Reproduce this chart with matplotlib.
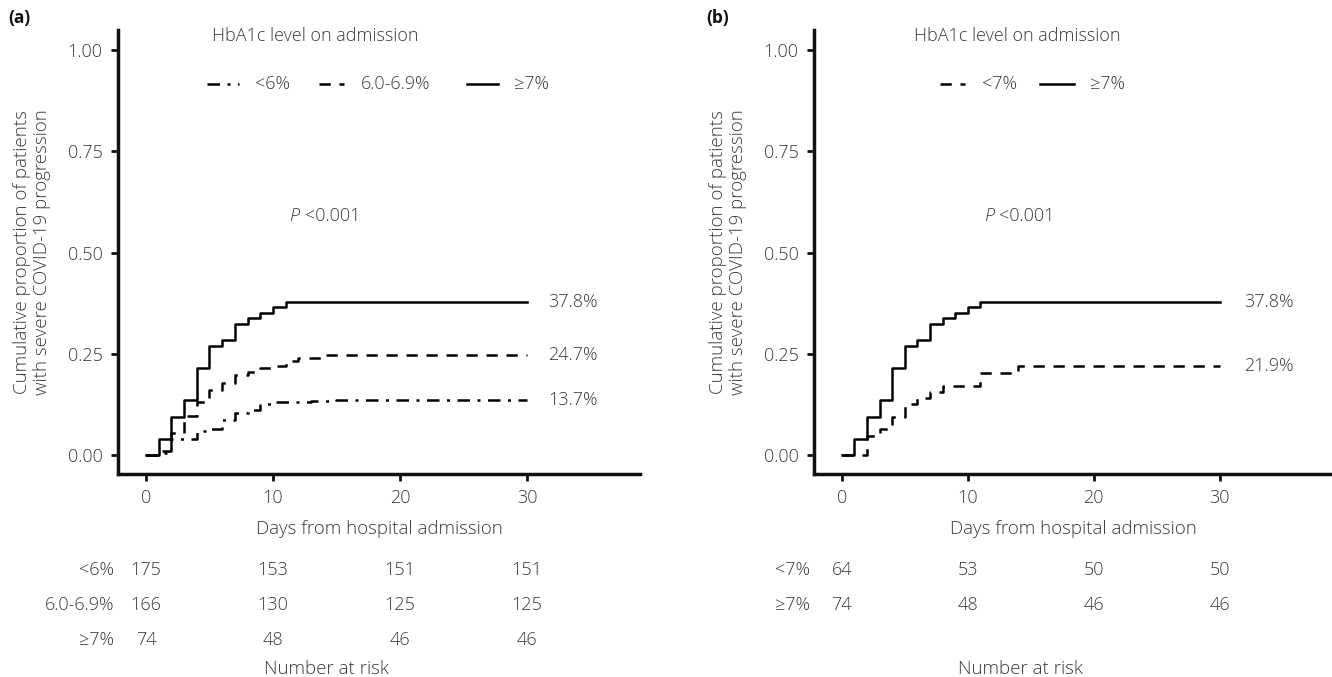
import matplotlib
matplotlib.use('Agg')
import matplotlib.pyplot as plt
import matplotlib.transforms as mtransforms
from matplotlib.lines import Line2D

plt.rcParams['font.family'] = ['Open Sans', 'DejaVu Sans']
plt.rcParams['font.weight'] = 'light'
plt.rcParams['axes.labelweight'] = 'light'

# panel (a) curves
days_gt7 = [0, 1, 2, 3, 4, 5, 6, 7, 8, 9, 10, 11, 30]
cum_gt7 = [0, 0.040, 0.095, 0.135, 0.216, 0.270, 0.285, 0.324, 0.338, 0.351, 0.365, 0.378, 0.378]

days_mid = [0, 1, 2, 3, 4, 5, 6, 7, 8, 9, 10, 11, 12, 14, 30]
cum_mid = [0, 0.011, 0.054, 0.097, 0.130, 0.161, 0.179, 0.197, 0.204, 0.215, 0.221, 0.233, 0.240, 0.247, 0.247]

days_lt6 = [0, 1, 2, 4, 5, 6, 7, 8, 9, 10, 13, 15, 30]
cum_lt6 = [0, 0.006, 0.039, 0.060, 0.064, 0.087, 0.103, 0.111, 0.125, 0.130, 0.134, 0.137, 0.137]

# panel (b) curves
days_lt7 = [0, 2, 3, 4, 5, 6, 7, 8, 11, 14, 30]
cum_lt7 = [0, 0.047, 0.063, 0.094, 0.125, 0.141, 0.155, 0.171, 0.203, 0.219, 0.219]

final_a = ['37.8%', '24.7%', '13.7%']
final_b = ['37.8%', '21.9%']

risk_days = [0, 10, 20, 30]
risk_a_labels = ['<6%', '6.0-6.9%', '≥7%']
risk_a = [[175, 153, 151, 151], [166, 130, 125, 125], [74, 48, 46, 46]]
risk_b_labels = ['<7%', '≥7%']
risk_b = [[64, 53, 50, 50], [74, 48, 46, 46]]

yticks = [0.0, 0.25, 0.5, 0.75, 1.0]
xticks = [0, 10, 20, 30]

txt = '#3a3a3a'
fs = 13
solid = '-'
dashed = (0, (4.5, 3.5))
dashdot = (0, (5, 3, 1.2, 3))

W, H = 1332, 677
fig = plt.figure(figsize=(W / 100, H / 100), dpi=100)


def make_axes(left_px, right_px):
    ax = fig.add_axes([left_px / W, 1 - 474 / H, (right_px - left_px) / W, (474 - 30) / H])
    ax.set_xlim(-2.2, 38.9)
    ax.set_ylim(-0.047, 1.05)
    for s in ['top', 'right']:
        ax.spines[s].set_visible(False)
    for s in ['left', 'bottom']:
        ax.spines[s].set_linewidth(2.5)
        ax.spines[s].set_color('#111111')
    ax.set_xticks(xticks)
    ax.set_yticks(yticks)
    ax.set_yticklabels(['%.2f' % v for v in yticks])
    ax.tick_params(direction='out', length=5, width=2, labelsize=fs, labelcolor=txt, color='#111111', pad=6)
    ax.set_xlabel('Days from hospital admission', fontsize=fs + 0.5, color=txt, labelpad=9,
                  fontweight='light')
    ax.set_ylabel('Cumulative proportion of patients\nwith severe COVID-19 progression',
                  fontsize=fs + 0.5, color=txt, labelpad=12, linespacing=1.15, fontweight='light')
    return ax


def legend_row(ax, items, y):
    for x0, x1, ls, lab in items:
        ax.add_line(Line2D([x0, x1], [y, y], color='black', lw=1.8, linestyle=ls))
        ax.text(x1 + 1.3, y, lab, fontsize=fs, color=txt, va='center', ha='left')


def p_value(ax, x, y):
    ax.text(x, y, 'P', fontsize=fs, color=txt, style='italic', ha='left', va='center')
    off = mtransforms.offset_copy(ax.transData, fig=fig, x=11, y=0, units='points')
    ax.text(x, y, '<0.001', fontsize=fs, color=txt, ha='left', va='center', transform=off)


def risk_table(ax, labels, rows):
    tr = mtransforms.blended_transform_factory(ax.transData, fig.transFigure)
    ys = [570, 605, 640]
    for i, (lab, row) in enumerate(zip(labels, rows)):
        y = 1 - ys[i] / H
        ax.text(-2.5, y, lab, transform=tr, ha='right', va='center', fontsize=fs, color=txt, clip_on=False)
        for d, n in zip(risk_days, row):
            ax.text(d, y, str(n), transform=tr, ha='center', va='center', fontsize=fs, color=txt, clip_on=False)
    ax.text(14.2, 1 - 669 / H, 'Number at risk', transform=tr, ha='center', va='center',
            fontsize=fs + 0.5, color=txt, clip_on=False)


# panel (a)
ax1 = make_axes(118, 640)
ax1.step(days_gt7, cum_gt7, where='post', color='black', lw=1.8, linestyle=solid)
ax1.step(days_mid, cum_mid, where='post', color='black', lw=1.8, linestyle=dashed)
ax1.step(days_lt6, cum_lt6, where='post', color='black', lw=1.8, linestyle=dashdot)
for v, lab in zip([cum_gt7[-1], cum_mid[-1], cum_lt6[-1]], final_a):
    ax1.text(31.7, v, lab, fontsize=fs, color=txt, va='center', ha='left')
ax1.text(13.3, 1.035, 'HbA1c level on admission', fontsize=fs, color=txt, ha='center', va='center')
legend_row(ax1, [(4.8, 7.3, dashdot, '<6%'), (13.6, 15.6, dashed, '6.0-6.9%'),
                 (25.3, 27.7, solid, '≥7%')], 0.916)
p_value(ax1, 11.3, 0.59)
risk_table(ax1, risk_a_labels, risk_a)
fig.text(8 / W, 1 - 18 / H, '(a)', fontsize=12.5, fontweight='bold', color='#111111', va='center', ha='left')

# panel (b)
ax2 = make_axes(814, 1332)
ax2.step(days_gt7, cum_gt7, where='post', color='black', lw=1.8, linestyle=solid)
ax2.step(days_lt7, cum_lt7, where='post', color='black', lw=1.8, linestyle=dashed)
for v, lab in zip([cum_gt7[-1], cum_lt7[-1]], final_b):
    ax2.text(31.9, v, lab, fontsize=fs, color=txt, va='center', ha='left')
ax2.text(13.9, 1.035, 'HbA1c level on admission', fontsize=fs, color=txt, ha='center', va='center')
legend_row(ax2, [(7.8, 9.8, dashed, '<7%'), (15.7, 18.4, solid, '≥7%')], 0.916)
p_value(ax2, 11.3, 0.59)
risk_table(ax2, risk_b_labels, risk_b)
fig.text(706 / W, 1 - 18 / H, '(b)', fontsize=12.5, fontweight='bold', color='#111111', va='center', ha='left')

fig.savefig('out.png', dpi=100)
